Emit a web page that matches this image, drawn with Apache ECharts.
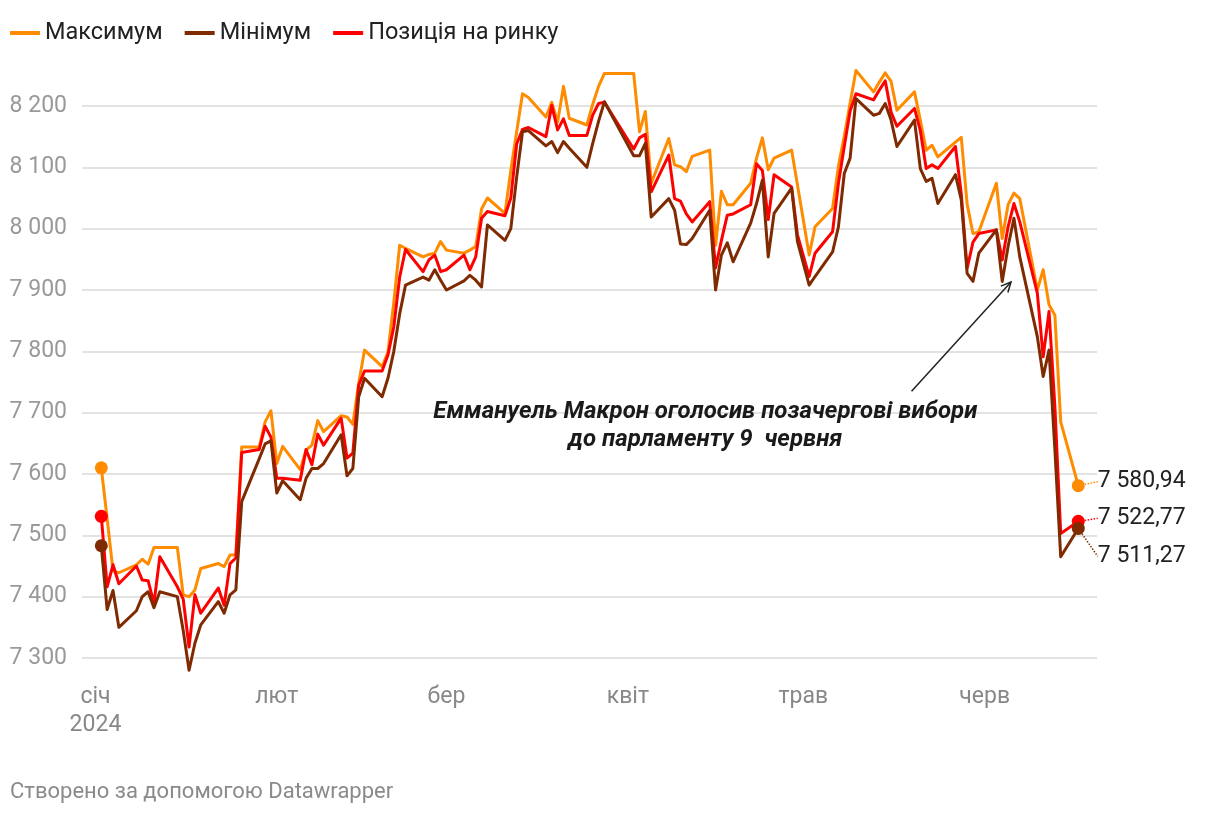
<!DOCTYPE html>
<html>
<head>
<meta charset="utf-8">
<script src="https://cdn.jsdelivr.net/npm/echarts@6/dist/echarts.min.js"></script>
<style>
  html, body { margin: 0; padding: 0; background: #fff; }
  #chart { width: 1220px; height: 816px; }
</style>
</head>
<body>
<div id="chart"></div>
<script>
// ---------- data ----------
const dates = [
  '2024-01-02','2024-01-03','2024-01-04','2024-01-05',
  '2024-01-08','2024-01-09','2024-01-10','2024-01-11','2024-01-12',
  '2024-01-15','2024-01-16','2024-01-17','2024-01-18','2024-01-19',
  '2024-01-22','2024-01-23','2024-01-24','2024-01-25','2024-01-26',
  '2024-01-29','2024-01-30','2024-01-31','2024-02-01','2024-02-02',
  '2024-02-05','2024-02-06','2024-02-07','2024-02-08','2024-02-09',
  '2024-02-12','2024-02-13','2024-02-14','2024-02-15','2024-02-16',
  '2024-02-19','2024-02-20','2024-02-21','2024-02-22','2024-02-23',
  '2024-02-26','2024-02-27','2024-02-28','2024-02-29','2024-03-01',
  '2024-03-04','2024-03-05','2024-03-06','2024-03-07','2024-03-08',
  '2024-03-11','2024-03-12','2024-03-13','2024-03-14','2024-03-15',
  '2024-03-18','2024-03-19','2024-03-20','2024-03-21','2024-03-22',
  '2024-03-25','2024-03-26','2024-03-27','2024-03-28',
  '2024-04-02','2024-04-03','2024-04-04','2024-04-05',
  '2024-04-08','2024-04-09','2024-04-10','2024-04-11','2024-04-12',
  '2024-04-15','2024-04-16','2024-04-17','2024-04-18','2024-04-19',
  '2024-04-22','2024-04-23','2024-04-24','2024-04-25','2024-04-26',
  '2024-04-29','2024-04-30','2024-05-02','2024-05-03',
  '2024-05-06','2024-05-07','2024-05-08','2024-05-09','2024-05-10',
  '2024-05-13','2024-05-14','2024-05-15','2024-05-16','2024-05-17',
  '2024-05-20','2024-05-21','2024-05-22','2024-05-23','2024-05-24',
  '2024-05-27','2024-05-28','2024-05-29','2024-05-30','2024-05-31',
  '2024-06-03','2024-06-04','2024-06-05','2024-06-06','2024-06-07',
  '2024-06-10','2024-06-11','2024-06-12','2024-06-13','2024-06-14',
  '2024-06-17'
];

const maxVals = [
  7610,7527,7442,7439,
  7452,7461,7453,7480,7480,
  7480,7403,7400,7411,7446,
  7454,7449,7468,7468,7644,
  7644,7685,7703,7617,7645,
  7607,7639,7647,7687,7669,
  7695,7693,7681,7748,7802,
  7775,7799,7880,7973,7968,
  7954,7958,7960,7979,7965,
  7960,7965,7971,8032,8050,
  8025,8095,8158,8220,8214,
  8182,8206,8174,8232,8180,
  8169,8203,8232,8253,
  8253,8158,8191,8074,
  8147,8104,8101,8093,8118,
  8128,7973,8061,8039,8039,
  8074,8115,8148,8096,8115,
  8128,8071,7957,8003,
  8033,8102,8151,8205,8258,
  8223,8239,8254,8240,8193,
  8223,8177,8128,8136,8117,
  8141,8149,8040,7992,7995,
  8074,7984,8039,8058,8049,
  7900,7933,7876,7859,7685,
  7580.94
];

const minVals = [
  7483,7379,7410,7350,
  7377,7400,7408,7382,7408,
  7400,7345,7280,7324,7354,
  7392,7373,7403,7411,7555,
  7625,7649,7654,7569,7589,
  7558,7593,7609,7609,7617,
  7664,7597,7609,7726,7756,
  7726,7756,7800,7861,7908,
  7921,7916,7933,7916,7900,
  7915,7924,7916,7905,8006,
  7981,8000,8084,8158,8160,
  8135,8142,8124,8142,8131,
  8100,8139,8175,8207,
  8119,8119,8139,8019,
  8049,8030,7975,7974,7984,
  8030,7900,7957,7977,7946,
  8009,8041,8079,7954,8025,
  8066,7979,7908,7922,
  7962,8003,8090,8115,8212,
  8185,8188,8204,8177,8134,
  8177,8098,8077,8082,8041,
  8088,8047,7927,7914,7960,
  7998,7914,7971,8017,7954,
  7824,7759,7802,7640,7465,
  7511.27
];

const closeVals = [
  7531,7416,7452,7421,
  7450,7427,7426,7389,7465,
  7416,7396,7318,7403,7373,
  7414,7386,7454,7463,7635,
  7640,7678,7660,7593,7593,
  7590,7640,7615,7665,7647,
  7691,7626,7634,7745,7768,
  7768,7794,7840,7921,7966,
  7930,7949,7957,7930,7933,
  7957,7933,7954,8017,8028,
  8021,8050,8138,8162,8165,
  8150,8201,8161,8179,8152,
  8152,8185,8204,8206,
  8130,8148,8154,8060,
  8120,8049,8045,8024,8011,
  8044,7936,7981,8022,8024,
  8039,8106,8095,8015,8088,
  8068,7990,7922,7960,
  7995,8074,8134,8192,8220,
  8210,8226,8241,8190,8167,
  8196,8160,8098,8104,8098,
  8134,8057,7935,7978,7992,
  7998,7949,8003,8041,8011,
  7895,7791,7865,7710,7503,
  7522.77
];

const seriesNames = ['Максимум', 'Мінімум', 'Позиція на ринку'];
const seriesColors = ['#ff8c00', '#7f2a00', '#ff0000'];
const monthLabels = ['січ','лют','бер','квіт','трав','черв'];
const yearLabel = '2024';
const yTicks = [7300, 8200, 100]; // min, max, step
const annotationLines = ['Еммануель Макрон оголосив позачергові вибори', 'до парламенту 9  червня'];
const footerText = 'Створено за допомогою Datawrapper';

// ---------- helpers ----------
const DAY = 86400000;
const jan1 = new Date(2024, 0, 1).getTime();
const thin = s => s.replace(/\B(?=(\d{3})+(?!\d))/g, ' ');
const fmtEnd = v => { const p = v.toFixed(2).split('.'); return thin(p[0]) + ',' + p[1]; };
const toPairs = arr => dates.map((d, i) => [d, arr[i]]);
const valueSets = [maxVals, minVals, closeVals];
const last = dates.length - 1;
const labelDy = [-4, 28, -3];
const zOrder = [2, 4, 3];

const chart = echarts.init(document.getElementById('chart'), null, { renderer: 'canvas' });

const series = [];
seriesNames.forEach((name, k) => {
  series.push({
    type: 'line', name, data: toPairs(valueSets[k]),
    showSymbol: false, symbol: 'none', clip: false, z: zOrder[k],
    lineStyle: { width: 3, color: seriesColors[k], join: 'round' },
    itemStyle: { color: seriesColors[k] },
    emphasis: { disabled: true }, animation: false
  });
});
seriesNames.forEach((name, k) => {
  const vals = valueSets[k];
  series.push({
    type: 'scatter', name: name + ' ', z: zOrder[k] + 5,
    symbolSize: 13, clip: false, silent: true, animation: false,
    itemStyle: { color: seriesColors[k], opacity: 1 },
    data: [
      { value: [dates[0], vals[0]], label: { show: false } },
      { value: [dates[last], vals[last]] }
    ],
    label: {
      show: true, position: 'right', distance: 13,
      formatter: p => fmtEnd(p.value[1]),
      fontFamily: 'Roboto', fontSize: 23, color: '#222'
    },
    labelLayout: { dy: labelDy[k] },
    labelLine: { show: true, lineStyle: { type: 'dotted', width: 1.5, color: seriesColors[k] } }
  });
});

chart.setOption({
  animation: false,
  backgroundColor: '#fff',
  textStyle: { fontFamily: 'Roboto' },
  legend: {
    data: seriesNames,
    left: 10, top: 21, padding: 0,
    icon: 'rect', itemWidth: 30, itemHeight: 4, itemGap: 22,
    selectedMode: false,
    textStyle: { fontFamily: 'Roboto', fontSize: 23.5, color: '#222' }
  },
  grid: { left: 82, right: 123, top: 106, height: 552, containLabel: false },
  xAxis: {
    type: 'time',
    min: jan1 - 2.3 * DAY,
    max: jan1 + 171.2 * DAY,
    axisLine: { show: false }, axisTick: { show: false },
    splitLine: { show: false },
    axisLabel: { show: false }
  },
  yAxis: {
    type: 'value', min: yTicks[0], max: yTicks[1], interval: yTicks[2],
    axisLine: { show: false }, axisTick: { show: false },
    splitLine: { lineStyle: { color: '#e3e3e3', width: 2 } },
    axisLabel: {
      formatter: v => thin(String(v)),
      fontFamily: 'Roboto', fontSize: 23, color: '#999', margin: 15
    }
  },
  series
});

// ---------- month labels & annotation (anchored to data coordinates) ----------
const graphics = [];
monthLabels.forEach((lab, m) => {
  const px = chart.convertToPixel({ gridIndex: 0 }, [new Date(2024, m, 1).getTime(), yTicks[0]]);
  graphics.push({
    type: 'text', x: px[0], y: px[1] + (m === 0 ? 53 : 39), z: 50,
    style: { text: m === 0 ? lab + '\n' + yearLabel : lab, textAlign: 'center', textVerticalAlign: 'middle',
      font: '23px Roboto', fill: '#888', lineHeight: 28 }
  });
});

const tip = chart.convertToPixel({ gridIndex: 0 }, [new Date(2024, 5, 5, 12).getTime(), 7913]);
const tail = chart.convertToPixel({ gridIndex: 0 }, [new Date(2024, 4, 19, 12).getTime(), 7735]);
const textC = chart.convertToPixel({ gridIndex: 0 }, [new Date(2024, 3, 14, 6).getTime(), 7678]);
const ang = Math.atan2(tip[1] - tail[1], tip[0] - tail[0]);
const ah = 11, aw = 0.45;
const p1 = [tip[0] - ah * Math.cos(ang - aw), tip[1] - ah * Math.sin(ang - aw)];
const p2 = [tip[0] - ah * Math.cos(ang + aw), tip[1] - ah * Math.sin(ang + aw)];

graphics.push(
  { type: 'line', shape: { x1: tail[0], y1: tail[1], x2: tip[0], y2: tip[1] },
    style: { stroke: '#222', lineWidth: 1.5 }, z: 50 },
  { type: 'polyline', shape: { points: [p1, tip, p2] },
    style: { stroke: '#222', lineWidth: 1.5, fill: null }, z: 50 },
  { type: 'text', x: textC[0], y: textC[1], z: 50,
    style: { text: annotationLines.join('\n'), textAlign: 'center', textVerticalAlign: 'middle',
      font: 'italic bold 24px Roboto', fill: '#1a1a1a', lineHeight: 28 } },
  { type: 'text', left: 10, top: 781,
    style: { text: footerText, font: '22px Roboto', fill: '#8a8a8a' } }
);

chart.setOption({ graphic: graphics });
</script>
</body>
</html>
